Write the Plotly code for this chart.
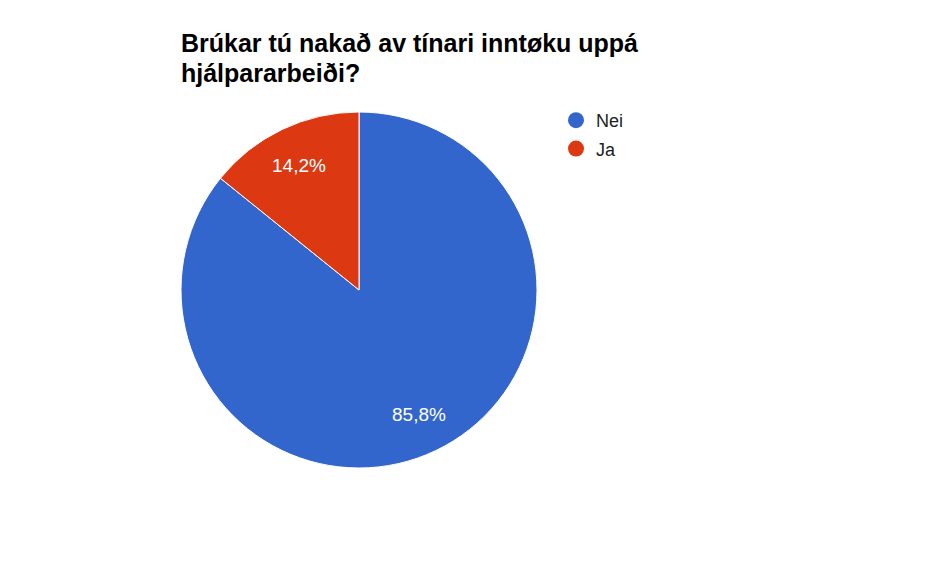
import math
import plotly.graph_objects as go

labels = ["Nei", "Ja"]
values = [85.8, 14.2]
text_labels = ["85,8%", "14,2%"]
colors = ["#3366CC", "#DC3912"]
title_lines = ["Brúkar tú nakað av tínari inntøku uppá", "hjálpararbeiði?"]

W, H = 938, 580
FONT = "Liberation Sans, Arial, sans-serif"

# pie geometry in figure pixels
cx, cy, R = 351, 282, 178

fig = go.Figure()
fig.add_trace(go.Pie(
    labels=labels, values=values,
    textinfo="none",
    sort=False, direction="clockwise", rotation=0,
    marker=dict(colors=colors, line=dict(color="white", width=1)),
    showlegend=False, hoverinfo="label+percent",
    domain=dict(x=[(cx - R) / W, (cx + R) / W], y=[1 - (cy + R) / H, 1 - (cy - R) / H]),
))

# slice labels placed along each slice bisector, derived from the values
total = sum(values)
cum = 0.0
for v, t in zip(values, text_labels):
    mid = (cum + v / 2) / total * 2 * math.pi
    cum += v
    px = cx + 0.775 * R * math.sin(mid)
    py = cy - 0.775 * R * math.cos(mid)
    fig.add_annotation(text=t, x=px / W, y=1 - py / H, xref="paper", yref="paper",
                       xanchor="center", yanchor="middle", showarrow=False,
                       font=dict(family=FONT, size=19, color="white"))

for lab, col in zip(labels, colors):
    fig.add_trace(go.Scatter(
        x=[None], y=[None], mode="markers", name=lab,
        marker=dict(color=col, size=16, symbol="circle"),
        legendgroup=lab, showlegend=True,
    ))

fig.add_annotation(text="<b>" + title_lines[0] + "</b>", x=171 / W, y=1 - 51.5 / H,
                   xref="paper", yref="paper", xanchor="left", yanchor="bottom",
                   showarrow=False, font=dict(family=FONT, size=25, color="#000"))
fig.add_annotation(text="<b>" + title_lines[1] + "</b>", x=171 / W, y=1 - 81.5 / H,
                   xref="paper", yref="paper", xanchor="left", yanchor="bottom",
                   showarrow=False, font=dict(family=FONT, size=25, color="#000"))

fig.update_layout(
    width=W, height=H,
    margin=dict(l=0, r=0, t=0, b=0),
    paper_bgcolor="white", plot_bgcolor="white",
    xaxis=dict(visible=False), yaxis=dict(visible=False),
    legend=dict(x=548 / W, y=1 - 94 / H, xanchor="left", yanchor="top",
                font=dict(family=FONT, size=18, color="#222"),
                tracegroupgap=2, itemsizing="trace", bgcolor="rgba(0,0,0,0)"),
)

fig.write_html("out.html")
